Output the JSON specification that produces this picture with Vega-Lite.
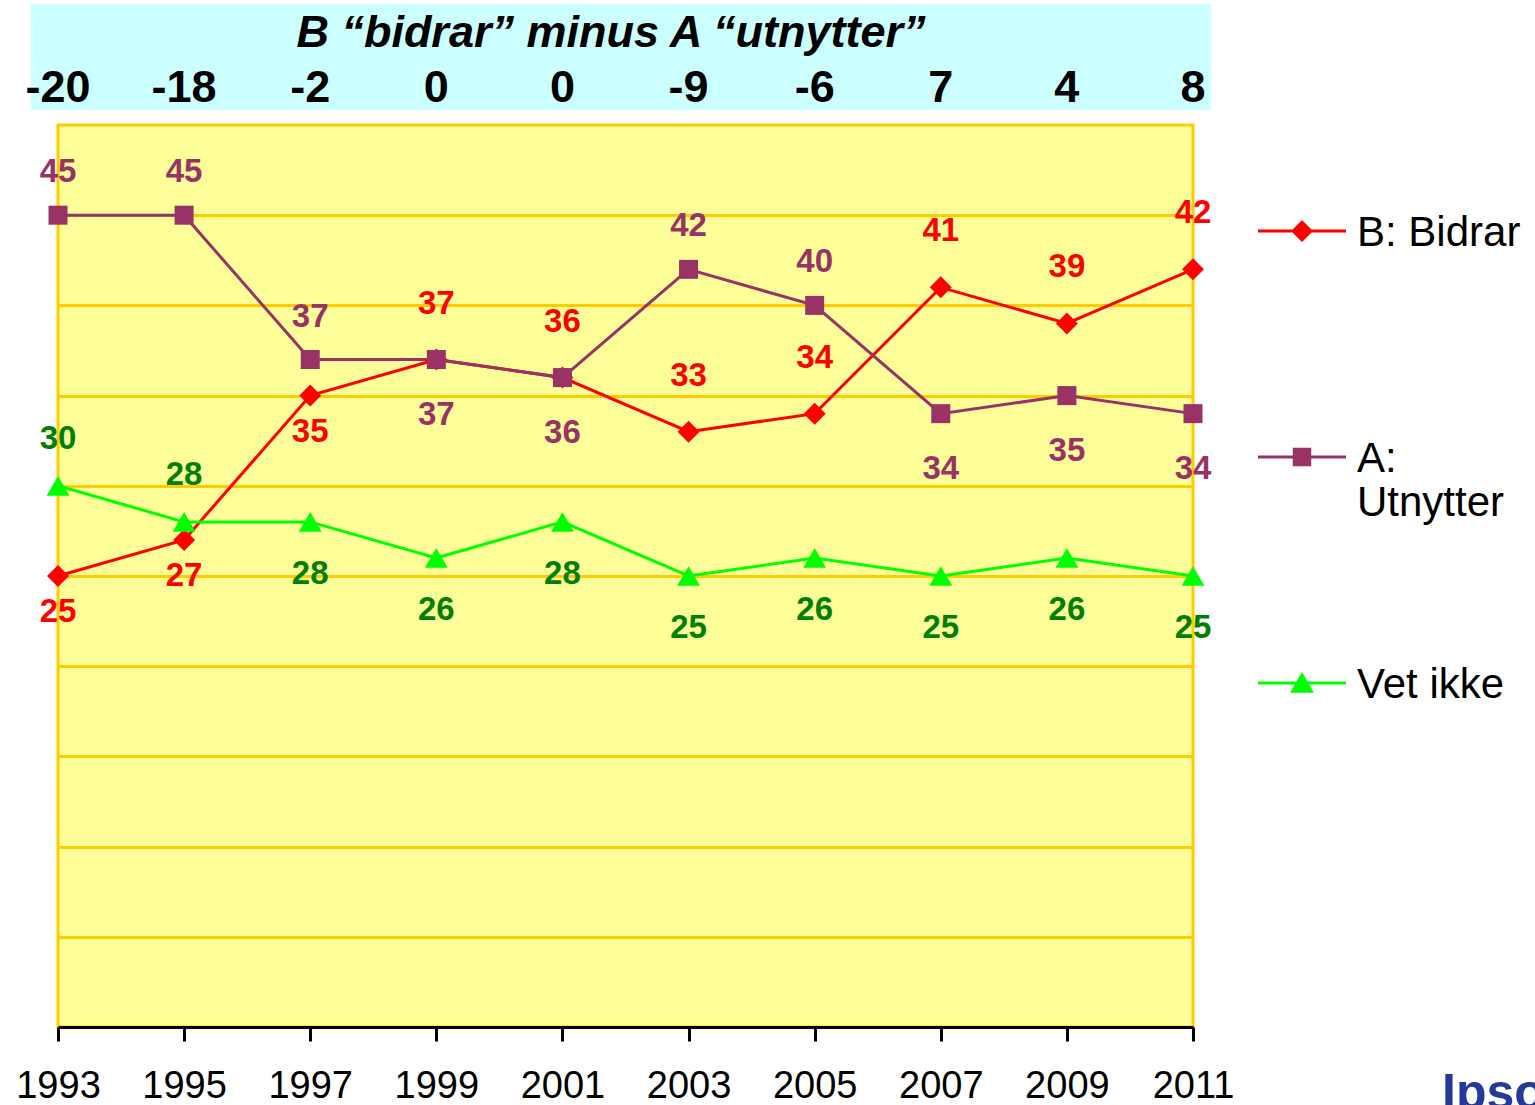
{
  "$schema": "https://vega.github.io/schema/vega-lite/v6.json",
  "width": 1135,
  "height": 902,
  "autosize": {"type": "none"},
  "padding": {"left": 58, "top": 125, "right": 342, "bottom": 78},
  "background": "white",
  "config": {
    "view": {"fill": "#FFFF99", "stroke": "#FFCC00", "strokeWidth": 3},
    "font": "Liberation Sans"
  },
  "datasets": {
    "main": [
      {"year": 1993, "series": "B: Bidrar", "value": 25},
      {"year": 1995, "series": "B: Bidrar", "value": 27},
      {"year": 1997, "series": "B: Bidrar", "value": 35},
      {"year": 1999, "series": "B: Bidrar", "value": 37},
      {"year": 2001, "series": "B: Bidrar", "value": 36},
      {"year": 2003, "series": "B: Bidrar", "value": 33},
      {"year": 2005, "series": "B: Bidrar", "value": 34},
      {"year": 2007, "series": "B: Bidrar", "value": 41},
      {"year": 2009, "series": "B: Bidrar", "value": 39},
      {"year": 2011, "series": "B: Bidrar", "value": 42},
      {"year": 1993, "series": "A: Utnytter", "value": 45},
      {"year": 1995, "series": "A: Utnytter", "value": 45},
      {"year": 1997, "series": "A: Utnytter", "value": 37},
      {"year": 1999, "series": "A: Utnytter", "value": 37},
      {"year": 2001, "series": "A: Utnytter", "value": 36},
      {"year": 2003, "series": "A: Utnytter", "value": 42},
      {"year": 2005, "series": "A: Utnytter", "value": 40},
      {"year": 2007, "series": "A: Utnytter", "value": 34},
      {"year": 2009, "series": "A: Utnytter", "value": 35},
      {"year": 2011, "series": "A: Utnytter", "value": 34},
      {"year": 1993, "series": "Vet ikke", "value": 30},
      {"year": 1995, "series": "Vet ikke", "value": 28},
      {"year": 1997, "series": "Vet ikke", "value": 28},
      {"year": 1999, "series": "Vet ikke", "value": 26},
      {"year": 2001, "series": "Vet ikke", "value": 28},
      {"year": 2003, "series": "Vet ikke", "value": 25},
      {"year": 2005, "series": "Vet ikke", "value": 26},
      {"year": 2007, "series": "Vet ikke", "value": 25},
      {"year": 2009, "series": "Vet ikke", "value": 26},
      {"year": 2011, "series": "Vet ikke", "value": 25}
    ],
    "head": [
      {"year": 1993, "diff": -20},
      {"year": 1995, "diff": -18},
      {"year": 1997, "diff": -2},
      {"year": 1999, "diff": 0},
      {"year": 2001, "diff": 0},
      {"year": 2003, "diff": -9},
      {"year": 2005, "diff": -6},
      {"year": 2007, "diff": 7},
      {"year": 2009, "diff": 4},
      {"year": 2011, "diff": 8}
    ],
    "headtitle": [{"label": "B “bidrar” minus A “utnytter”"}],
    "logo": [{"label": "Ipsos"}]
  },
  "layer": [
    {
      "data": {"name": "main"},
      "mark": {"type": "line", "strokeWidth": 3},
      "encoding": {
        "x": {
          "field": "year", "type": "quantitative",
          "scale": {"domain": [1993, 2011], "nice": false, "zero": false},
          "axis": {
            "values": [1993, 1995, 1997, 1999, 2001, 2003, 2005, 2007, 2009, 2011],
            "format": "d", "title": null, "grid": false,
            "labelFontSize": 38, "labelFont": "Liberation Sans", "labelColor": "black",
            "labelFlush": false, "labelOverlap": false, "labelPadding": 26,
            "tickColor": "black", "tickSize": 14, "tickWidth": 3,
            "domainColor": "black", "domainWidth": 3
          }
        },
        "y": {
          "field": "value", "type": "quantitative",
          "scale": {"domain": [0, 50], "nice": false, "zero": true},
          "axis": {
            "values": [5, 10, 15, 20, 25, 30, 35, 40, 45],
            "grid": true, "gridColor": "#FFCC00", "gridWidth": 3,
            "labels": false, "ticks": false, "domain": false, "title": null
          }
        },
        "detail": {"field": "series", "type": "nominal"},
        "color": {
          "condition": [
            {"test": "datum.series == 'B: Bidrar'", "value": "#FF0000"},
            {"test": "datum.series == 'A: Utnytter'", "value": "#993366"}
          ],
          "value": "#00FF00"
        }
      }
    },
    {
      "data": {"name": "main"},
      "mark": {"type": "point", "filled": true, "opacity": 1},
      "encoding": {
        "x": {"field": "year", "type": "quantitative"},
        "y": {"field": "value", "type": "quantitative"},
        "color": {
          "condition": [
            {"test": "datum.series == 'B: Bidrar'", "value": "#FF0000"},
            {"test": "datum.series == 'A: Utnytter'", "value": "#993366"}
          ],
          "value": "#00FF00"
        },
        "shape": {
          "condition": [
            {"test": "datum.series == 'B: Bidrar'", "value": "diamond"},
            {"test": "datum.series == 'A: Utnytter'", "value": "square"}
          ],
          "value": "triangle-up"
        },
        "size": {
          "condition": [
            {"test": "datum.series == 'B: Bidrar'", "value": 484},
            {"test": "datum.series == 'A: Utnytter'", "value": 361}
          ],
          "value": 520
        }
      }
    },
    {
      "data": {"name": "main"},
      "transform": [
        {"filter": "datum.series == 'B: Bidrar' && datum.year >= 1999"}
      ],
      "mark": {"type": "text", "fontSize": 33, "fontWeight": "bold", "baseline": "middle", "align": "center", "dy": -56, "color": "#FF0000"},
      "encoding": {
        "x": {"field": "year", "type": "quantitative"},
        "y": {"field": "value", "type": "quantitative"},
        "text": {"field": "value"}
      }
    },
    {
      "data": {"name": "main"},
      "transform": [
        {"filter": "datum.series == 'B: Bidrar' && datum.year <= 1997"}
      ],
      "mark": {"type": "text", "fontSize": 33, "fontWeight": "bold", "baseline": "middle", "align": "center", "dy": 36, "color": "#FF0000"},
      "encoding": {
        "x": {"field": "year", "type": "quantitative"},
        "y": {"field": "value", "type": "quantitative"},
        "text": {"field": "value"}
      }
    },
    {
      "data": {"name": "main"},
      "transform": [
        {"filter": "datum.series == 'A: Utnytter' && (datum.year <= 1997 || datum.year == 2003 || datum.year == 2005)"}
      ],
      "mark": {"type": "text", "fontSize": 33, "fontWeight": "bold", "baseline": "middle", "align": "center", "dy": -43, "color": "#993366"},
      "encoding": {
        "x": {"field": "year", "type": "quantitative"},
        "y": {"field": "value", "type": "quantitative"},
        "text": {"field": "value"}
      }
    },
    {
      "data": {"name": "main"},
      "transform": [
        {"filter": "datum.series == 'A: Utnytter' && !(datum.year <= 1997 || datum.year == 2003 || datum.year == 2005)"}
      ],
      "mark": {"type": "text", "fontSize": 33, "fontWeight": "bold", "baseline": "middle", "align": "center", "dy": 55, "color": "#993366"},
      "encoding": {
        "x": {"field": "year", "type": "quantitative"},
        "y": {"field": "value", "type": "quantitative"},
        "text": {"field": "value"}
      }
    },
    {
      "data": {"name": "main"},
      "transform": [
        {"filter": "datum.series == 'Vet ikke' && datum.year <= 1995"}
      ],
      "mark": {"type": "text", "fontSize": 33, "fontWeight": "bold", "baseline": "middle", "align": "center", "dy": -47, "color": "#008000"},
      "encoding": {
        "x": {"field": "year", "type": "quantitative"},
        "y": {"field": "value", "type": "quantitative"},
        "text": {"field": "value"}
      }
    },
    {
      "data": {"name": "main"},
      "transform": [
        {"filter": "datum.series == 'Vet ikke' && datum.year > 1995"}
      ],
      "mark": {"type": "text", "fontSize": 33, "fontWeight": "bold", "baseline": "middle", "align": "center", "dy": 52, "color": "#008000"},
      "encoding": {
        "x": {"field": "year", "type": "quantitative"},
        "y": {"field": "value", "type": "quantitative"},
        "text": {"field": "value"}
      }
    },
    {
      "data": {"name": "headtitle"},
      "mark": {"type": "rect", "color": "#CCFFFF"},
      "encoding": {
        "x": {"datum": 1992.57, "type": "quantitative"},
        "x2": {"datum": 2011.29},
        "y": {"datum": 56.71, "type": "quantitative"},
        "y2": {"datum": 50.83}
      }
    },
    {
      "data": {"name": "headtitle"},
      "mark": {"type": "text", "fontSize": 45, "fontWeight": "bold", "fontStyle": "italic", "color": "black", "baseline": "middle", "align": "center"},
      "encoding": {
        "x": {"datum": 2001.77, "type": "quantitative"},
        "y": {"datum": 55.1, "type": "quantitative"},
        "text": {"field": "label"}
      }
    },
    {
      "data": {"name": "head"},
      "mark": {"type": "text", "fontSize": 45, "fontWeight": "bold", "color": "black", "baseline": "middle", "align": "center"},
      "encoding": {
        "x": {"field": "year", "type": "quantitative"},
        "y": {"datum": 52.05, "type": "quantitative"},
        "text": {"field": "diff"}
      }
    },
    {
      "data": {"name": "logo"},
      "mark": {"type": "text", "fontSize": 50, "fontWeight": "bold", "color": "#24399A", "baseline": "middle", "align": "left"},
      "encoding": {
        "x": {"datum": 2014.95, "type": "quantitative"},
        "y": {"datum": -3.7, "type": "quantitative"},
        "text": {"field": "label"}
      }
    },
    {
      "data": {"name": "main"},
      "transform": [{"filter": "datum.year < 0"}],
      "mark": {"type": "point", "filled": true, "opacity": 1},
      "encoding": {
        "x": {"field": "year", "type": "quantitative"},
        "y": {"field": "value", "type": "quantitative"},
        "color": {
          "field": "series", "type": "nominal",
          "scale": {"domain": ["B: Bidrar", "A: Utnytter", "Vet ikke"], "range": ["#FF0000", "#993366", "#00FF00"]},
          "legend": {
            "orient": "none", "legendX": 1199, "legendY": 43, "title": null,
            "symbolSize": 7744, "labelFontSize": 42, "labelFont": "Liberation Sans", "labelColor": "black",
            "labelLimit": 400, "labelOffset": 10, "rowPadding": 96, "padding": 0,
            "gridAlign": "all",
            "labelBaseline": "top",
            "labelExpr": "datum.label == 'A: Utnytter' ? ['A:', 'Utnytter'] : datum.label"
          }
        },
        "shape": {
          "field": "series", "type": "nominal",
          "scale": {
            "domain": ["B: Bidrar", "A: Utnytter", "Vet ikke"],
            "range": ["M-1,0.375H1V0.445H-1ZM0,0.16L0.25,0.41L0,0.66L-0.25,0.41Z", "M-1,0.375H1V0.445H-1ZM-0.21,0.2H0.21V0.62H-0.21Z", "M-1,0.375H1V0.445H-1ZM0,0.16L0.27,0.63H-0.27Z"]
          },
          "legend": {
            "orient": "none", "legendX": 1199, "legendY": 43, "title": null,
            "symbolSize": 7744, "labelFontSize": 42, "labelFont": "Liberation Sans", "labelColor": "black",
            "labelLimit": 400, "labelOffset": 10, "rowPadding": 96, "padding": 0,
            "gridAlign": "all",
            "labelBaseline": "top",
            "labelExpr": "datum.label == 'A: Utnytter' ? ['A:', 'Utnytter'] : datum.label"
          }
        }
      }
    }
  ]
}
